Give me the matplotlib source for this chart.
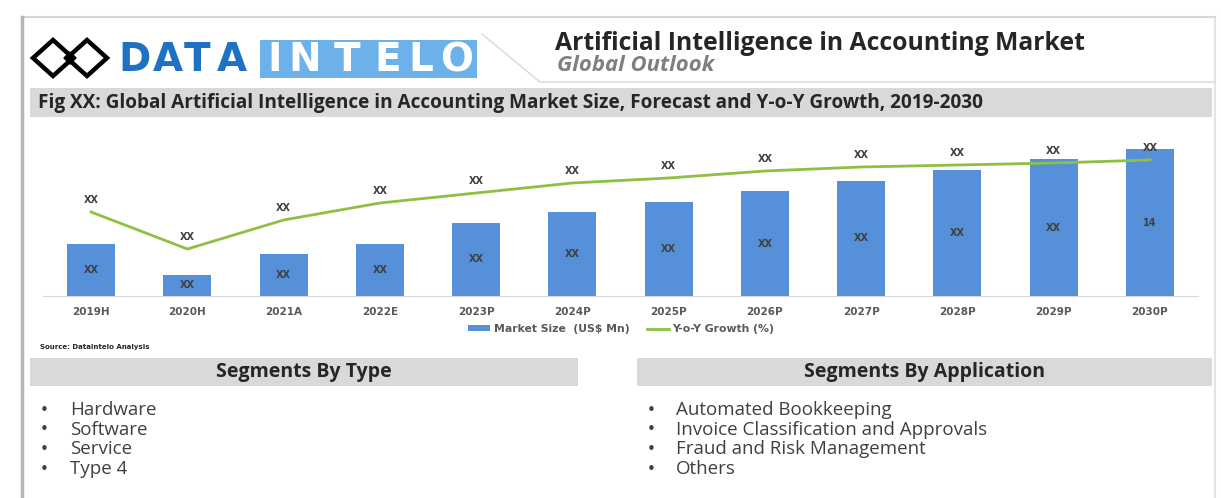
import matplotlib

matplotlib.use("Agg")

import matplotlib.pyplot as plt  # noqa: E402
from matplotlib.patches import Polygon, Rectangle  # noqa: E402

# ---- data -------------------------------------------------------------
years = ["2019H", "2020H", "2021A", "2022E", "2023P", "2024P",
         "2025P", "2026P", "2027P", "2028P", "2029P", "2030P"]
market_size = [5, 2, 4, 5, 7, 8, 9, 10, 11, 12, 13, 14]
yoy_growth = [8.4, 4.7, 7.6, 9.3, 10.3, 11.3, 11.8, 12.5, 12.9, 13.1, 13.3, 13.6]
bar_labels = ["XX"] * 11 + ["14"]
line_labels = ["XX"] * 12

type_segments = ["Hardware", "Software", "Service", "Type 4"]
application_segments = ["Automated Bookkeeping", "Invoice Classification and Approvals",
                        "Fraud and Risk Management", "Others"]

# ---- style ------------------------------------------------------------
W, H, DPI = 1221, 498, 100
BAR_COLOR = "#5590d8"
LINE_COLOR = "#8dc043"
BAND_COLOR = "#d9d9d9"
DARK = "#262626"
GREY_TEXT = "#404040"
BODY_FONT = "Open Sans"
LOGO_FONT = "DejaVu Sans"

fig = plt.figure(figsize=(W / DPI, H / DPI), dpi=DPI)
renderer = fig.canvas.get_renderer()

# overlay in pixel coordinates for the page decoration
bg = fig.add_axes([0, 0, 1, 1])
bg.set_xlim(0, W)
bg.set_ylim(H, 0)
bg.axis("off")


def fit(text, width_px):
    """Scale a text's font size so it spans roughly width_px pixels."""
    w = text.get_window_extent(renderer).width
    text.set_fontsize(text.get_fontsize() * width_px / w)
    return text


# page frame (left edge darker, like a drop shadow)
bg.plot([1215, 1215], [17, 498], color="#e3e3e3", lw=1.5)
bg.plot([22, 1215], [17, 17], color="#d6d6d6", lw=1.5)
bg.plot([22, 22], [17, 498], color="#b5b5b5", lw=2.5)

# logo icon: two interlocking diamonds
for cx in (53, 87):
    bg.add_patch(Polygon([(cx - 20, 58), (cx, 40), (cx + 20, 58), (cx, 76)],
                         closed=True, fill=False, ec="black", lw=3.2, joinstyle="miter"))
bg.add_patch(Polygon([(64, 58), (70, 52), (76, 58), (70, 64)], closed=True, fc="black", ec="black"))

for letter, cx in zip("DATA", (134, 168, 197, 232)):
    bg.text(cx, 60, letter, ha="center", va="center", fontsize=28, fontweight="bold",
            family=LOGO_FONT, color="#1f72c1")
bg.add_patch(Rectangle((260, 40), 217, 38, fc="#6db1ea", ec="none"))
for letter, cx in zip("INTELO", (275, 305, 347, 388, 421, 457)):
    bg.text(cx, 60, letter, ha="center", va="center", fontsize=28, fontweight="bold",
            family=LOGO_FONT, color="white")

# title box outline
bg.plot([482, 540, 1214], [34, 82, 82], color="#d3e0ea", lw=1.2)

title = bg.text(555, 43, "Artificial Intelligence in Accounting Market", ha="left", va="center",
                fontsize=15, fontweight="bold", family=BODY_FONT, color=DARK)
fit(title, 530)
subtitle = bg.text(557, 65, "Global Outlook", ha="left", va="center", fontsize=11,
                   fontweight="bold", fontstyle="italic", family=BODY_FONT, color="#7f7f7f")
fit(subtitle, 157)

# figure caption band
bg.add_patch(Rectangle((30, 88), 1182, 29, fc=BAND_COLOR, ec="none"))
caption = bg.text(38, 102.5, "Fig XX: Global Artificial Intelligence in Accounting Market Size, "
                  "Forecast and Y-o-Y Growth, 2019-2030", ha="left", va="center",
                  fontsize=11, fontweight="bold", family=BODY_FONT, color=DARK)
fit(caption, 947)

# ---- chart ------------------------------------------------------------
left, right, top, base = 43, 1198, 130, 296
ax = fig.add_axes([left / W, (H - base) / H, (right - left) / W, (base - top) / H])
ax.set_facecolor("none")
x = range(len(years))
bars = ax.bar(x, market_size, width=0.5, color=BAR_COLOR, label="Market Size  (US$ Mn)", zorder=2)
ax.set_xlim(-0.5, len(years) - 0.5)
ax.set_ylim(0, (base - top) / 10.5)
ax.set_yticks([])
for side in ("left", "right", "top"):
    ax.spines[side].set_visible(False)
ax.spines["bottom"].set_color("#d9d9d9")
ax.set_xticks(list(x))
ax.set_xticklabels(years, fontsize=7.5, fontweight="bold", color="#595959", family=LOGO_FONT)
ax.tick_params(axis="x", length=0, pad=8)

for xi, h, lab in zip(x, market_size, bar_labels):
    ax.text(xi, h / 2, lab, ha="center", va="center", fontsize=7, fontweight="bold",
            color=GREY_TEXT, family=LOGO_FONT, zorder=3)

ax2 = ax.twinx()
ax2.set_ylim(0, (base - top) / 10.0)
ax2.axis("off")
line, = ax2.plot(list(x), yoy_growth, color=LINE_COLOR, lw=2.0, label="Y-o-Y Growth (%)", zorder=4)
for xi, g, lab in zip(x, yoy_growth, line_labels):
    ax2.annotate(lab, (xi, g), xytext=(0, 8.6), textcoords="offset points", ha="center",
                 va="center", fontsize=7, fontweight="bold", color=GREY_TEXT, family=LOGO_FONT)

fig.legend([bars, line], ["Market Size  (US$ Mn)", "Y-o-Y Growth (%)"],
           loc="center", bbox_to_anchor=(621 / W, (H - 329) / H), ncol=2, frameon=False,
           prop={"family": LOGO_FONT, "weight": "bold", "size": 7.8}, labelcolor="#595959",
           handlelength=2.1, handleheight=0.4, handletextpad=0.3, columnspacing=1.6)

bg.text(40, 347, "Source: DataIntelo Analysis", ha="left", va="center", fontsize=5,
        fontweight="bold", family=LOGO_FONT, color=DARK)

# ---- segment panels ---------------------------------------------------
panels = [
    (30, 578, 44, 70, "Segments By Type", type_segments),
    (637, 1212, 651, 676, "Segments By Application", application_segments),
]
for x0, x1, bx, tx, heading, items in panels:
    bg.add_patch(Rectangle((x0, 358), x1 - x0, 28, fc=BAND_COLOR, ec="none"))
    bg.text((x0 + x1) / 2, 372, heading, ha="center", va="center", fontsize=14,
            fontweight="bold", family=BODY_FONT, color=DARK)
    for i, item in enumerate(items):
        y = 410 + i * 19.7
        bg.text(bx, y, "\u2022", ha="center", va="center", fontsize=11, color=GREY_TEXT)
        bg.text(tx, y, item, ha="left", va="center", fontsize=13.5, family=BODY_FONT,
                color=GREY_TEXT)

fig.savefig("out.png", dpi=DPI)
